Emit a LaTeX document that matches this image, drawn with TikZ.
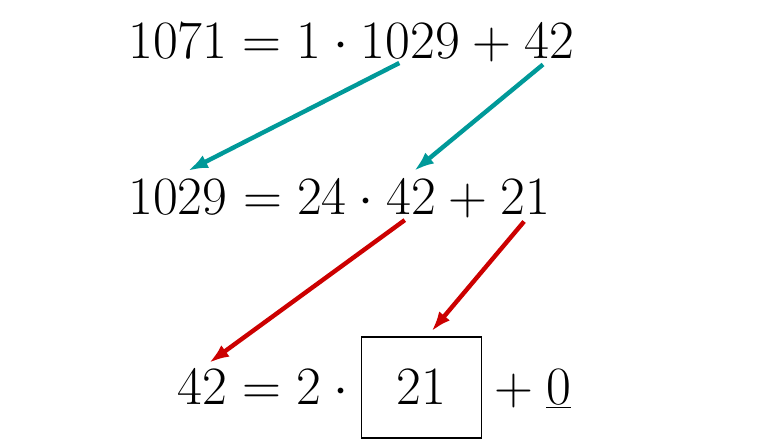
\RequirePackage{fix-cm}
\documentclass[tikz,border=0pt]{standalone}
\usetikzlibrary{arrows.meta,positioning,calc}
\definecolor{eucteal}{RGB}{0,153,153}
\definecolor{eucred}{RGB}{204,0,0}
\tikzset{
    eq/.style = {inner sep=0pt, anchor=base west},
    box/.style = {draw, line width=0.8pt, rectangle,
        minimum width=60pt, minimum height=50.5pt, inner sep=0pt},
    arrow/.style = {draw, -{Latex[length=10pt,width=7pt]}, line width=2.2pt, shorten <=4pt}
}

\begin{document}
\begin{tikzpicture}[every node/.style={font=\fontsize{27}{33}\selectfont}]
    \useasboundingbox (0,0) rectangle (389pt,-224pt);
        % 1071 = 1 * 1029 + 42
        \node [eq] (a1) at (64pt,-29.5pt) {$1071 = 1\cdot{}$};
        \node [eq] (b1) at (a1.base east) {$1029$};
        \node [eq] (c1) at (b1.base east) {${}+{}$};
        \node [eq] (d1) at (c1.base east) {$42$};
        % 1029 = 24 * 42 + 21
        \node [eq] (a2) at (64pt,-107.5pt) {$1029$};
        \node [eq] (b2) at (a2.base east) {${}= 24\cdot{}$};
        \node [eq] (c2) at (b2.base east) {$42$};
        \node [eq] (d2) at (c2.base east) {${}+{}$};
        \node [eq] (e2) at (d2.base east) {$21$};
        % 42 = 2 * 21 + 0
        \node [eq] (a3) at (88.5pt,-202.5pt) {$42$};
        \node [eq] (b3) at (a3.base east) {${}= 2\cdot{}$};
        \node [eq, box] (c3) at (b3.base east) {$21$};
        \node [eq] (d3) at (c3.base east) {${}+{}$};
        \node [eq] (e3) at (d3.base east) {$\underline{0}$};
        % arrows
        \draw [arrow, eucteal] ([xshift=-2pt]b1.south) -- ([xshift=5pt,yshift=4.5pt]a2.north);
        \draw [arrow, eucteal] (d1.south) -- ([xshift=1.5pt,yshift=4.5pt]c2.north);
        \draw [arrow, eucred] (c2.south) -- ([xshift=3.5pt,yshift=3.5pt]a3.north);
        \draw [arrow, eucred] ([xshift=2pt]e2.south) -- ([xshift=5pt,yshift=2.5pt]c3.north);
\end{tikzpicture}
\end{document}
